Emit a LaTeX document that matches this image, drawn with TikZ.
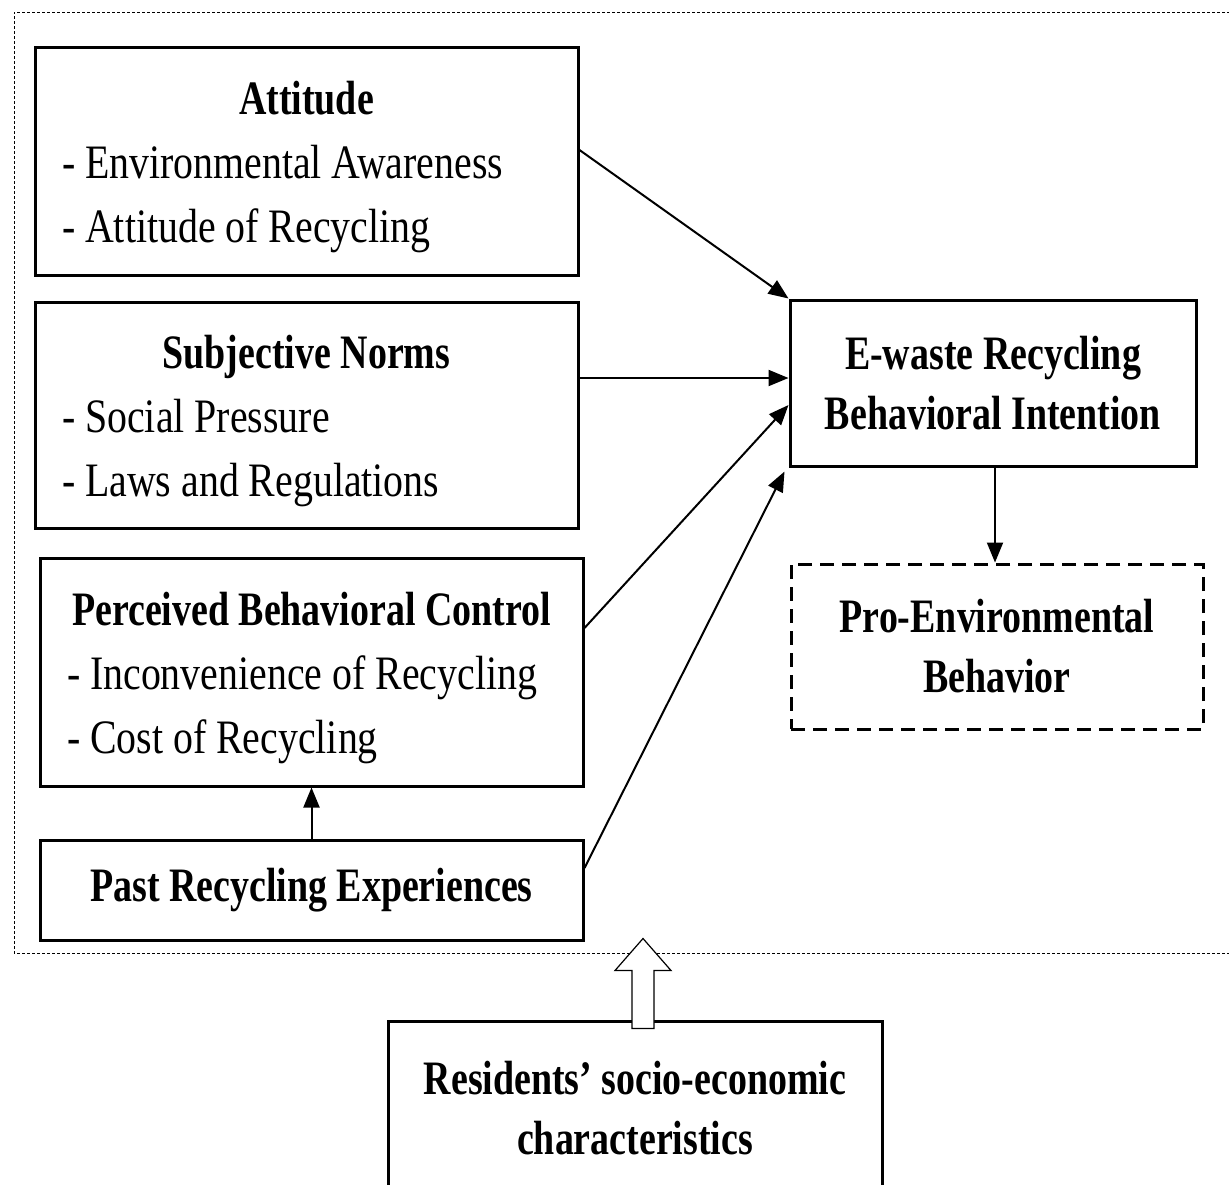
\documentclass[tikz,border=0pt]{standalone}
\usepackage{fontspec}
\setmainfont{Liberation Serif}[FakeStretch=0.83, BoldFeatures={FakeStretch=0.79}]
\usetikzlibrary{arrows.meta,calc}

\newcommand{\lift}{\rule{0pt}{23pt}}

\begin{document}
\begin{tikzpicture}[x=0.5pt, y=-0.5pt,
		listbox/.style={draw, line width=1.5pt, inner xsep=13.5pt, inner ysep=0pt, text width=244.5pt, align=flush left, font=\fontsize{24}{32}\selectfont},
		namebox/.style={draw, line width=1.5pt, align=center, font=\fontsize{24}{30}\selectfont\bfseries},
		arr/.style={line width=1pt, -{Triangle[length=10pt, width=8pt]}}]
		\useasboundingbox (0,0) rectangle (1229,1184);

		% outer frame
		\draw[line width=0.5pt, dash pattern=on 1.5pt off 1pt] (1240,12) -- (14,12) -- (14,953) -- (1240,953);

		\node[listbox, minimum height=114pt] (att) at (306.5,161) {\lift\makebox[\linewidth]{\bfseries Attitude}\\- Environmental Awareness\\- Attitude of Recycling};
		\node[listbox, minimum height=113pt] (sn) at (306.5,415) {\lift\makebox[\linewidth]{\bfseries Subjective Norms}\\- Social Pressure\\- Laws and Regulations};
		\node[listbox, minimum height=114pt] (pbc) at (311.5,672) {\lift\makebox[\linewidth]{\bfseries Perceived Behavioral Control}\\- Inconvenience of Recycling\\- Cost of Recycling};
		\node[namebox, minimum width=271.5pt, minimum height=50pt] (past) at (311.5,890) {Past Recycling Experiences};

		\node[namebox, minimum width=203pt, minimum height=83pt] (bi) at (993,383) {E-waste Recycling\\Behavioral Intention};
		\node[namebox, dash pattern=on 7pt off 4pt, minimum width=206pt, minimum height=82.5pt] (pro) at (997,646.5) {Pro-Environmental\\Behavior};

		\node[namebox, minimum width=247pt, minimum height=87pt] (res) at (635,1108) {Residents’ socio-economic\\characteristics};

		\draw[arr] (att.east) ++(0,-11) -- (bi.north west);
		\draw[arr] (sn.east |- bi.west) ++(0,-5) -- ([yshift=2.5pt]bi.west);
		\draw[arr] ([yshift=22pt]pbc.east) -- ([yshift=-11pt]bi.west);
		\draw[arr] ([yshift=11pt]past.east) -- ([xshift=-2pt,yshift=-2pt]bi.south west);
		\draw[arr] (past.north) -- (pbc.south);
		\draw[arr] ([xshift=1pt]bi.south) -- ([xshift=1pt]bi.south |- pro.north);

		% hollow arrow
		\coordinate (h) at ($(res.north)+(8,9)$);
		\draw[line width=0.6pt, fill=white] ($(h)+(-11,0)$) -- ++(0,-58) -- ++(-17,0) -- ($(h)+(0,-90)$) -- ($(h)+(28,-58)$) -- ++(-17,0) -- ++(0,58) -- cycle;

	\end{tikzpicture}
\end{document}
